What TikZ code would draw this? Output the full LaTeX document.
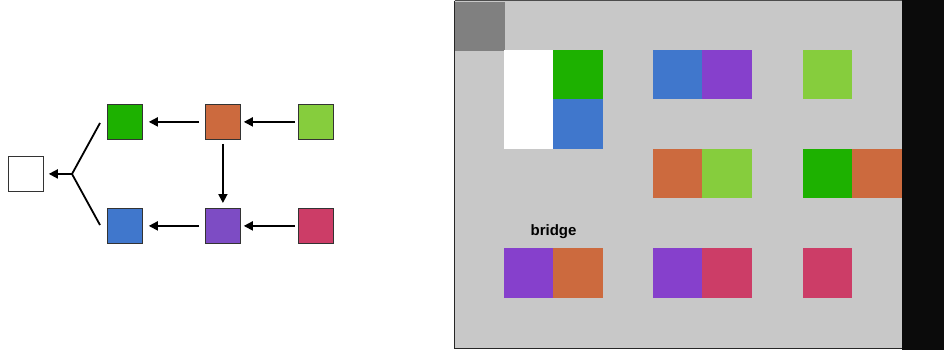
\documentclass[tikz,border=0pt]{standalone}
\usepackage{fontspec}
\setsansfont{Liberation Sans}
\usetikzlibrary{arrows.meta}
\definecolor{cgreen}{HTML}{1DB100}
\definecolor{corange}{HTML}{CC6A3E}
\definecolor{clime}{HTML}{86CD3D}
\definecolor{cblue}{HTML}{4077CC}
\definecolor{cpurpleL}{HTML}{7D4CC4}
\definecolor{cpurple}{HTML}{8640CC}
\definecolor{cpink}{HTML}{CC3D67}
\definecolor{cpanel}{HTML}{C8C8C8}
\definecolor{cdark}{HTML}{808080}
\definecolor{cblack}{HTML}{0B0B0B}
\tikzset{
  box/.style={draw=black!80, line width=0.8pt, minimum size=35pt, inner sep=0pt, anchor=north west},
  conn/.style={line width=1.8pt, -{Triangle[length=9pt,width=9pt]}},
  fork/.style={line width=1.8pt},
  cell/.style={inner sep=0pt, minimum width=49.6pt, minimum height=49.6pt, anchor=north west, draw=none},
}
\begin{document}
\begin{tikzpicture}[x=1pt,y=-1pt]
\useasboundingbox (0,0) rectangle (944,350);
% ---------- left graph ----------
\node[box, fill=white] (w) at (8,156) {};
\node[box, fill=cgreen] (g) at (107,104) {};
\node[box, fill=corange] (o) at (205,104) {};
\node[box, fill=clime] (l) at (298,104) {};
\node[box, fill=cblue] (b) at (107,208) {};
\node[box, fill=cpurpleL] (p) at (205,208) {};
\node[box, fill=cpink] (k) at (298,208) {};
\draw[conn] ([xshift=-6pt]o.west) -- ([xshift=6pt]g.east);
\draw[conn] ([xshift=-3pt]l.west) -- ([xshift=3pt]o.east);
\draw[conn] ([xshift=-6pt]p.west) -- ([xshift=6pt]b.east);
\draw[conn] ([xshift=-3pt]k.west) -- ([xshift=3pt]p.east);
\draw[conn] ([yshift=-4pt]o.south) -- ([yshift=5pt]p.north);
\coordinate (f) at (72,174);
\coordinate (fu) at (100,123);
\coordinate (fd) at (100,225);
\draw[fork] (fu) -- (f) -- (fd);
\draw[conn] (f) -- ([xshift=5pt]w.east);
% ---------- right panel ----------
\fill[cpanel] (454,1) rectangle (902,348);
\fill[cblack] (902,0) rectangle (944,350);
\draw[black!85, line width=1.5pt] (454.5,1) -- (454.5,348.5) -- (902,348.5);
\draw[black!70, line width=1pt] (454.5,1) -- (902,1);
\node[cell, fill=cdark] (c0) at (455,1.5) {};
\node[cell, fill=white, minimum height=99.2pt] (c1) at (503.4,49.4) {};
\node[cell, fill=cgreen] (c2) at (553,49.4) {};
\node[cell, fill=cblue] (c3) at (553,99) {};
\node[cell, fill=cblue] (c4) at (652.4,49.4) {};
\node[cell, fill=cpurple] (c5) at (702,49.4) {};
\node[cell, fill=clime] (c6) at (802.4,49.4) {};
\node[cell, fill=corange] (c7) at (652.4,148.6) {};
\node[cell, fill=clime] (c8) at (702,148.6) {};
\node[cell, fill=cgreen] (c9) at (802.4,148.6) {};
\node[cell, fill=corange] (c10) at (852,148.6) {};
\node[cell, fill=cpurple] (c11) at (503.4,248) {};
\node[cell, fill=corange] (c12) at (553,248) {};
\node[cell, fill=cpurple] (c13) at (652.4,248) {};
\node[cell, fill=cpink] (c14) at (702,248) {};
\node[cell, fill=cpink] (c15) at (802.4,248) {};
\node[font=\sffamily\bfseries\fontsize{15}{18}\selectfont, inner sep=0pt] (lab) at (553.5,232) {bridge};
\end{tikzpicture}
\end{document}
